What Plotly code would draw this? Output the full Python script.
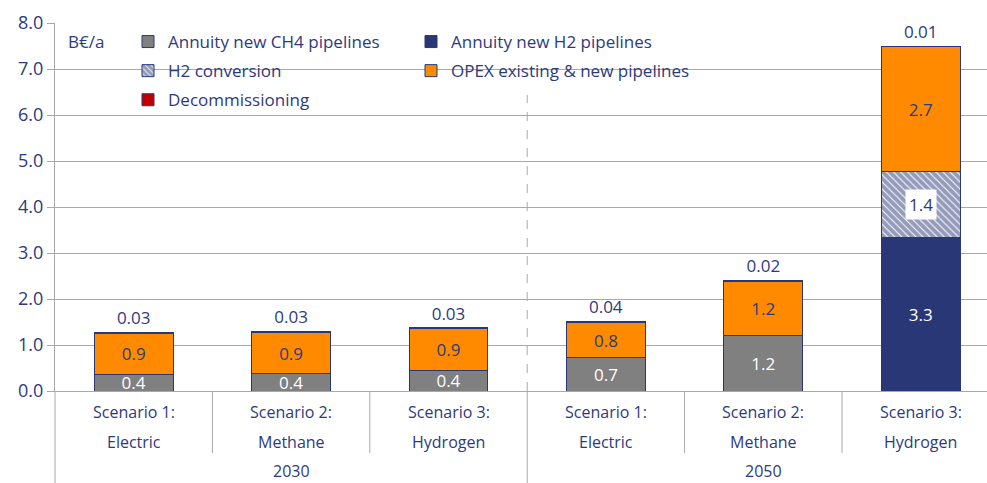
import plotly.graph_objects as go

# ---- data -------------------------------------------------------------
years = ["2030", "2030", "2030", "2050", "2050", "2050"]
scenario_num = ["Scenario 1:", "Scenario 2:", "Scenario 3:"] * 2
scenario_type = ["Electric", "Methane", "Hydrogen"] * 2

annuity_ch4 = [0.36, 0.37, 0.44, 0.72, 1.21, None]
annuity_h2 = [None, None, None, None, None, 3.34]
h2_conversion = [None, None, None, None, None, 1.43]
opex = [0.89, 0.90, 0.91, 0.76, 1.18, 2.71]
decommissioning = [0.03, 0.03, 0.03, 0.04, 0.02, 0.01]

y_ticks = [0, 1, 2, 3, 4, 5, 6, 7, 8]
unit_label = "B€/a"

# ---- style ------------------------------------------------------------
FONT = "Open Sans"
NAVY = "#293777"
TEXT = "#2E3A7E"
GREY = "#808080"
ORANGE = "#FF8A00"
RED = "#C00000"
GRID = "#A8A8A8"

cats = [f"{y} {n} {t}" for y, n, t in zip(years, scenario_num, scenario_type)]

W, H = 987, 483
ML, MT, MB = 55, 23, 92
plot_w = W - ML
plot_h = H - MT - MB
cat_px = 157.4
x_range = [-0.5, -0.5 + plot_w / cat_px]


def xpaper(v):
    return (v - x_range[0]) / (x_range[1] - x_range[0])


def ypaper(px):
    return (H - MB - px) / plot_h


def tmpl(vals, fmt):
    return [fmt if v else "" for v in vals]


outline = dict(color=NAVY, width=1)
fig = go.Figure()

fig.add_trace(go.Bar(
    x=cats, y=annuity_ch4, name="Annuity new CH4 pipelines",
    marker=dict(color=GREY, line=outline),
    texttemplate=tmpl(annuity_ch4, "%{y:.1f}"), textposition="inside",
    insidetextanchor="middle", textfont=dict(color="white", size=17, family=FONT),
    legend="legend", legendgroup="a", legendrank=1,
))
fig.add_trace(go.Bar(
    x=cats, y=annuity_h2, name="Annuity new H2 pipelines",
    marker=dict(color=NAVY, line=outline),
    texttemplate=tmpl(annuity_h2, "%{y:.1f}"), textposition="inside",
    insidetextanchor="middle", textfont=dict(color="white", size=17, family=FONT),
    legend="legend2", legendgroup="b", legendrank=1,
))
fig.add_trace(go.Bar(
    x=cats, y=h2_conversion, name="H2 conversion",
    marker=dict(color="white", line=outline,
                pattern=dict(shape="\\", fgcolor=NAVY, bgcolor="white",
                             size=5, solidity=0.8)),
    legend="legend", legendgroup="c", legendrank=2,
))
fig.add_trace(go.Bar(
    x=cats, y=opex, name="OPEX existing & new pipelines",
    marker=dict(color=ORANGE, line=outline),
    texttemplate=tmpl(opex, "%{y:.1f}"), textposition="inside",
    insidetextanchor="middle", textfont=dict(color=TEXT, size=17, family=FONT),
    legend="legend2", legendgroup="d", legendrank=2,
))
fig.add_trace(go.Bar(
    x=cats, y=decommissioning, name="Decommissioning",
    marker=dict(color=RED, line=outline),
    texttemplate="%{y:.2f}", textposition="outside",
    textfont=dict(color=TEXT, size=17, family=FONT),
    legend="legend", legendgroup="e", legendrank=3,
))

# label of the hatched segment sits on a white box
for i, v in enumerate(h2_conversion):
    if v:
        fig.add_annotation(
            x=cats[i], y=(annuity_h2[i] or 0) + v / 2, text=f"{v:.1f}",
            showarrow=False, bgcolor="white", borderpad=3,
            font=dict(color=TEXT, size=17, family=FONT))

# category labels under the axis
for i in range(len(cats)):
    fig.add_annotation(x=cats[i], y=ypaper(412), yref="paper", text=scenario_num[i],
                       showarrow=False, xanchor="center", yanchor="middle",
                       font=dict(color=TEXT, size=16, family=FONT))
    fig.add_annotation(x=cats[i], y=ypaper(442), yref="paper", text=scenario_type[i],
                       showarrow=False, xanchor="center", yanchor="middle",
                       font=dict(color=TEXT, size=16, family=FONT))

# year group labels and dividers
groups = []
for i, y in enumerate(years):
    if not groups or groups[-1][0] != y:
        groups.append([y, i, i])
    else:
        groups[-1][2] = i
for y, a, b in groups:
    fig.add_annotation(x=xpaper((a + b) / 2), xref="paper", y=ypaper(471), yref="paper",
                       text=y, showarrow=False, xanchor="center", yanchor="middle",
                       font=dict(color=TEXT, size=16, family=FONT))

shapes = []
for k in range(len(cats) + 1):
    b = k - 0.5
    outer = k == 0 or k == len(cats) or years[k] != years[k - 1]
    y_end = ypaper(H + 5) if outer else ypaper(453)
    shapes.append(dict(type="line", xref="paper", yref="paper",
                       x0=xpaper(b), x1=xpaper(b), y0=0, y1=y_end,
                       line=dict(color=GRID, width=1)))
    if outer and 0 < k < len(cats):
        shapes.append(dict(type="line", xref="paper", yref="paper",
                           x0=xpaper(b), x1=xpaper(b), y0=0, y1=ypaper(95),
                           line=dict(color=GRID, width=1, dash="dash")))
fig.update_layout(shapes=shapes)

fig.add_annotation(x=xpaper(-0.5) + 11 / plot_w, xref="paper", y=ypaper(42), yref="paper",
                   text=unit_label, showarrow=False, xanchor="left", yanchor="middle",
                   font=dict(color=TEXT, size=17, family=FONT))

legend_common = dict(
    orientation="v", bgcolor="rgba(0,0,0,0)", traceorder="grouped",
    tracegroupgap=4, font=dict(color=TEXT, size=17, family=FONT),
    yanchor="top", y=ypaper(24), xanchor="left", itemclick=False,
)

fig.update_layout(
    width=W, height=H,
    margin=dict(l=ML, r=0, t=MT, b=MB, pad=0),
    paper_bgcolor="white", plot_bgcolor="white",
    barmode="stack", bargap=0.5,
    font=dict(family=FONT, color=TEXT),
    legend=dict(**legend_common, x=(128 - ML) / plot_w),
    legend2=dict(**legend_common, x=(411 - ML) / plot_w),
    xaxis=dict(type="category", range=x_range, showticklabels=False,
               showline=True, linecolor=GRID, linewidth=1, ticks="",
               showgrid=False, zeroline=False),
    yaxis=dict(range=[0, 8], tickvals=y_ticks, tickformat=".1f",
               showgrid=True, gridcolor=GRID, gridwidth=1,
               showline=True, linecolor=GRID, linewidth=1,
               ticks="outside", ticklen=7, tickcolor=GRID,
               tickfont=dict(color=TEXT, size=18, family=FONT),
               zeroline=False),
    uniformtext=dict(mode=False),
)
fig.update_traces(constraintext="none", cliponaxis=False, selector=dict(type="bar"))

fig.write_html("out.html")
